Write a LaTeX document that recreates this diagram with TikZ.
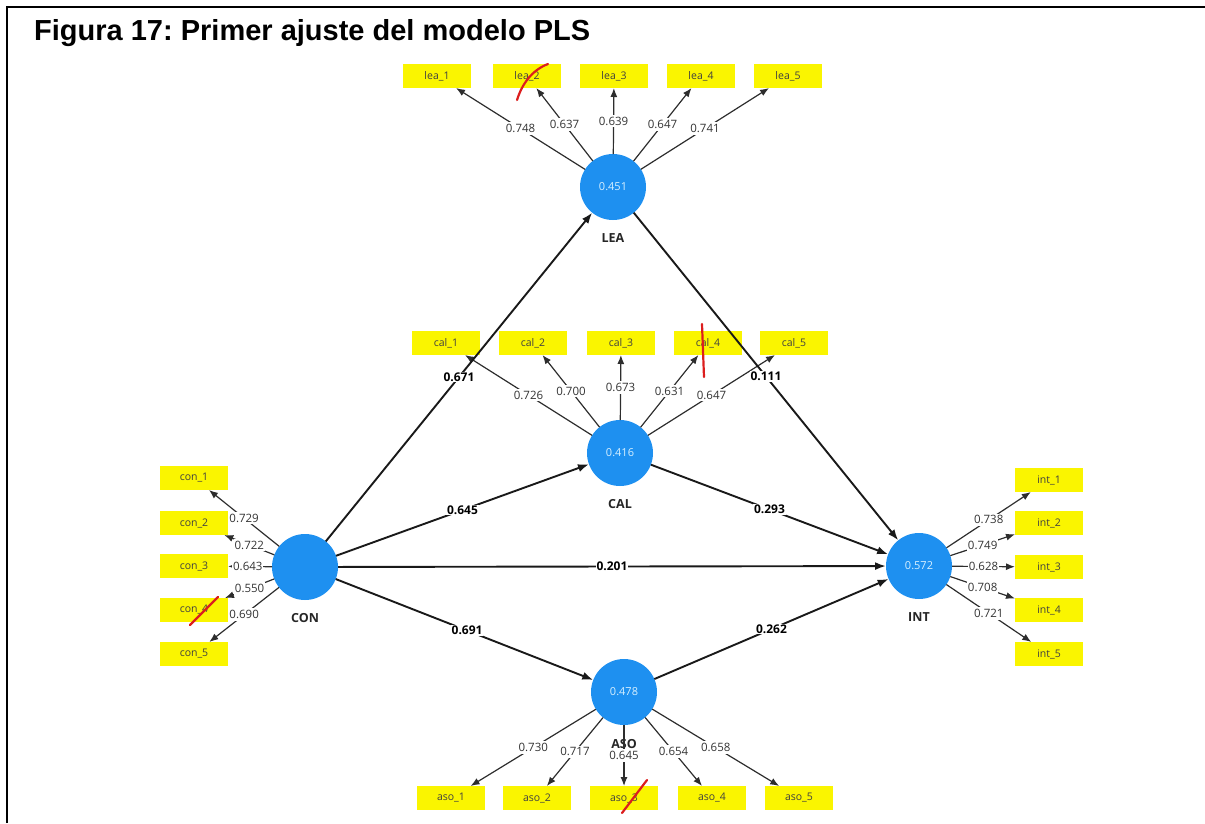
\documentclass[tikz,border=0pt]{standalone}
\usepackage{fontspec}
\setmainfont{Liberation Sans}
\newfontfamily\uifont{Open Sans}
\usetikzlibrary{arrows.meta}

\definecolor{lvblue}{RGB}{30,144,240}
\definecolor{indyellow}{RGB}{250,245,0}
\definecolor{linegray}{RGB}{45,45,45}
\definecolor{strike}{RGB}{220,30,30}
\definecolor{lvtext}{RGB}{215,240,255}

\begin{document}
\frenchspacing
\begin{tikzpicture}[x=1pt,y=-1pt,
  latent/.style={circle, fill=lvblue, minimum size=66pt, inner sep=0pt, outer sep=0pt,
    text=lvtext, font=\uifont\fontsize{11}{12}\selectfont},
  indicator/.style={rectangle, fill=indyellow, minimum width=68pt, minimum height=24pt,
    inner sep=0pt, outer sep=0pt, text=black!75, font=\uifont\fontsize{10.5}{12}\selectfont},
  loading/.style={-{Latex[length=9pt,width=7pt]}, draw=linegray, line width=1.2pt},
  structural/.style={-{Latex[length=11pt,width=8pt]}, draw=black!90, line width=1.9pt},
  lval/.style={fill=white, inner xsep=1pt, inner ysep=2pt, text=black!80, font=\uifont\fontsize{11.5}{13}\selectfont},
  pval/.style={fill=white, inner sep=1pt, text=black, font=\uifont\bfseries\fontsize{12}{13}\selectfont},
  lvname/.style={font=\uifont\bfseries\fontsize{12.5}{14}\selectfont, text=black!85},
  strikeout/.style={draw=strike, line width=2.2pt, line cap=round},
]
\useasboundingbox (0,0) rectangle (1205,823);

% frame and caption
\draw[line width=2.5pt] (7,823) -- (7,7) -- (1205,7);
\node[anchor=base west, inner sep=0pt] (title) at (34,40)
  {\fontsize{29}{34}\selectfont\bfseries Figura 17: Primer ajuste del modelo PLS};

% latent variables
\node[latent, label={[lvname, label distance=10pt]below:LEA}] (LEA) at (613,187) {0.451};
\node[latent, label={[lvname, label distance=10pt]below:CAL}] (CAL) at (620,453) {0.416};
\node[latent, label={[lvname, label distance=10pt]below:CON}] (CON) at (305,567) {};
\node[latent, label={[lvname, label distance=10pt]below:INT}] (INT) at (919,566) {0.572};
\node[latent, label={[lvname, label distance=11pt]below:ASO}] (ASO) at (624,692) {0.478};

% indicators
\node[indicator] (lea1) at (437,76) {lea\_1};
\node[indicator] (lea2) at (527,76) {lea\_2};
\node[indicator] (lea3) at (614,76) {lea\_3};
\node[indicator] (lea4) at (701,76) {lea\_4};
\node[indicator] (lea5) at (788,76) {lea\_5};

\node[indicator] (cal1) at (446,343) {cal\_1};
\node[indicator] (cal2) at (533,343) {cal\_2};
\node[indicator] (cal3) at (621,343) {cal\_3};
\node[indicator] (cal4) at (708,343) {cal\_4};
\node[indicator] (cal5) at (794,343) {cal\_5};

\node[indicator] (con1) at (194,478) {con\_1};
\node[indicator] (con2) at (194,523) {con\_2};
\node[indicator] (con3) at (194,566) {con\_3};
\node[indicator] (con4) at (194,610) {con\_4};
\node[indicator] (con5) at (194,654) {con\_5};

\node[indicator] (int1) at (1049,480) {int\_1};
\node[indicator] (int2) at (1049,523) {int\_2};
\node[indicator] (int3) at (1049,567) {int\_3};
\node[indicator] (int4) at (1049,610) {int\_4};
\node[indicator] (int5) at (1049,654) {int\_5};

\node[indicator] (aso1) at (451,798) {aso\_1};
\node[indicator] (aso2) at (537,798) {aso\_2};
\node[indicator] (aso3) at (624,798) {aso\_3};
\node[indicator] (aso4) at (712,798) {aso\_4};
\node[indicator] (aso5) at (799,798) {aso\_5};

% outer loadings
\draw[loading] (LEA) -- node[lval, pos=0.5] {0.748} (lea1);
\draw[loading] (LEA) -- node[lval, pos=0.5] {0.637} (lea2);
\draw[loading] (LEA) -- node[lval, pos=0.5] {0.639} (lea3);
\draw[loading] (LEA) -- node[lval, pos=0.5] {0.647} (lea4);
\draw[loading] (LEA) -- node[lval, pos=0.5] {0.741} (lea5);

\draw[loading] (CAL) -- node[lval, pos=0.5] {0.726} (cal1);
\draw[loading] (CAL) -- node[lval, pos=0.5] {0.700} (cal2);
\draw[loading] (CAL) -- node[lval, pos=0.5] {0.673} (cal3);
\draw[loading] (CAL) -- node[lval, pos=0.5] {0.631} (cal4);
\draw[loading] (CAL) -- node[lval, pos=0.5] {0.647} (cal5);

\draw[loading] (CON) -- node[lval, pos=0.5] {0.729} (con1);
\draw[loading] (CON) -- node[lval, pos=0.5] {0.722} (con2);
\draw[loading] (CON) -- node[lval, pos=0.55] {0.643} (con3);
\draw[loading] (CON) -- node[lval, pos=0.5] {0.550} (con4);
\draw[loading] (CON) -- node[lval, pos=0.5] {0.690} (con5);

\draw[loading] (INT) -- node[lval, pos=0.5] {0.738} (int1);
\draw[loading] (INT) -- node[lval, pos=0.5] {0.749} (int2);
\draw[loading] (INT) -- node[lval, pos=0.5] {0.628} (int3);
\draw[loading] (INT) -- node[lval, pos=0.5] {0.708} (int4);
\draw[loading] (INT) -- node[lval, pos=0.5] {0.721} (int5);

\draw[loading] (ASO) -- node[lval, pos=0.5] {0.730} (aso1);
\draw[loading] (ASO) -- node[lval, pos=0.5] {0.717} (aso2);
\draw[loading] (ASO) -- node[lval, pos=0.5] {0.645} (aso3);
\draw[loading] (ASO) -- node[lval, pos=0.5] {0.654} (aso4);
\draw[loading] (ASO) -- node[lval, pos=0.5] {0.658} (aso5);

% path coefficients
\draw[structural] (CON) -- node[pval, pos=0.5] {0.671} (LEA);
\draw[structural] (LEA) -- node[pval, pos=0.5] {0.111} (INT);
\draw[structural] (CON) -- node[pval, pos=0.5] {0.645} (CAL);
\draw[structural] (CAL) -- node[pval, pos=0.5] {0.293} (INT);
\draw[structural] (CON) -- node[pval, pos=0.5] {0.201} (INT);
\draw[structural] (CON) -- node[pval, pos=0.51] {0.691} (ASO);
\draw[structural] (ASO) -- node[pval, pos=0.5] {0.262} (INT);

% hand-drawn strike marks on dropped indicators
\draw[strikeout] (517,100) .. controls (522,84) and (532,70) .. (548,64);
\draw[strikeout] (702,324) -- (704,377);
\draw[strikeout] (190,625) -- (218,597);
\draw[strikeout] (622,813) -- (647,780);
\end{tikzpicture}
\end{document}
